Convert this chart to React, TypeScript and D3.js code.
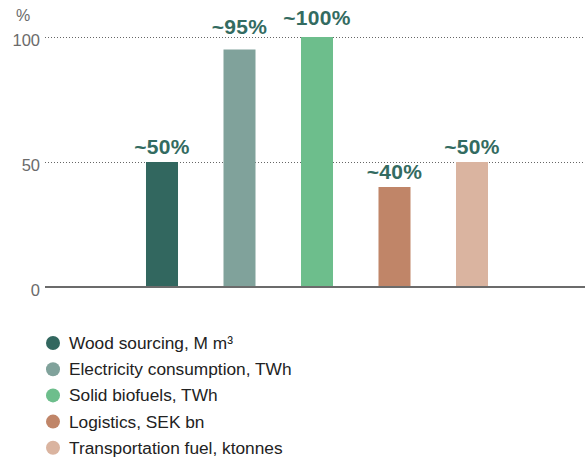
import React from "react";
import * as d3 from "d3";

const categories = [
  "Wood sourcing, M m³",
  "Electricity consumption, TWh",
  "Solid biofuels, TWh",
  "Logistics, SEK bn",
  "Transportation fuel, ktonnes",
];
const values = [50, 95, 100, 40, 50];
const valueLabels = ["~50%", "~95%", "~100%", "~40%", "~50%"];
const colors = ["#32675f", "#80a29b", "#6dbe8c", "#c08568", "#dab4a0"];
const yTicks = [0, 50, 100];
const unitLabel = "%";

const W = 585;
const H = 460;
const FONT = "'Liberation Sans', Arial, Helvetica, sans-serif";

export default function App() {
  const x = d3
    .scaleBand<string>()
    .domain(categories)
    .range([123.25, 510.75])
    .paddingInner(0.587)
    .paddingOuter(0.2935);
  const y = d3.scaleLinear().domain([0, 100]).range([287, 37]);
  const axisLeft = 45;
  const axisRight = W;
  const top = d3.max(yTicks) as number;

  // value labels sit above the bars; the label at the top tick gets extra room,
  // and a label that would sit on a gridline is lifted above it
  const labelBaseline = (v: number) => {
    if (v === top) return y(v) - 12;
    let b = y(v) - 8;
    for (const t of yTicks) {
      const gy = y(t);
      if (t !== v && b > gy - 3 && b - 15 < gy) b = gy - 3.5;
    }
    return b;
  };

  return (
    <svg
      width={W}
      height={H}
      style={{ position: "absolute", left: 0, top: 0, background: "#fff" }}
      fontFamily={FONT}
    >
      <text x={16} y={21} fontSize={16} fill="#6b6b6b">
        {unitLabel}
      </text>
      {yTicks.map((t) => (
        <g key={t}>
          {t !== 0 && (
            <line
              x1={axisLeft}
              x2={axisRight}
              y1={y(t) + 0.5}
              y2={y(t) + 0.5}
              stroke="#666"
              strokeWidth={1}
              strokeDasharray="1,2"
            />
          )}
          <text
            x={40}
            y={y(t) + 8.5}
            fontSize={16.5}
            fill="#6b6b6b"
            textAnchor="end"
          >
            {t}
          </text>
        </g>
      ))}
      {categories.map((c, i) => (
        <rect
          key={c}
          x={x(c)}
          y={y(values[i])}
          width={x.bandwidth()}
          height={y(0) - y(values[i])}
          fill={colors[i]}
        />
      ))}
      <line
        x1={axisLeft}
        x2={axisRight}
        y1={y(0)}
        y2={y(0)}
        stroke="#6b6b6b"
        strokeWidth={2}
      />
      {categories.map((c, i) => (
        <text
          key={c}
          x={(x(c) as number) + x.bandwidth() / 2}
          y={labelBaseline(values[i])}
          textAnchor="middle"
          fontSize={21}
          fontWeight="bold"
          letterSpacing={0.3}
          fill="#336b61"
        >
          {valueLabels[i]}
        </text>
      ))}
      {categories.map((c, i) => {
        const cy = 343 + i * 26.2;
        return (
          <g key={c}>
            <circle cx={53} cy={cy} r={7} fill={colors[i]} />
            <text x={69} y={cy + 6} fontSize={17.3} fill="#222">
              {c}
            </text>
          </g>
        );
      })}
    </svg>
  );
}
